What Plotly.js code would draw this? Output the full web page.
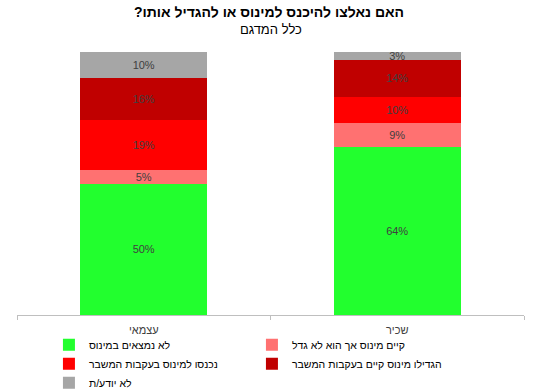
<!DOCTYPE html>
<html>
<head>
<meta charset="utf-8">
<script src="https://cdn.plot.ly/plotly-3.0.1.min.js"></script>
<style>html,body{margin:0;padding:0;background:#fff;}#chart{width:538px;height:389px;}</style>
</head>
<body>
<div id="chart"></div>
<script>
var categories = ["עצמאי", "שכיר"];
var seriesNames = [
  "לא נמצאים במינוס",
  "קיים מינוס אך הוא לא גדל",
  "נכנסו למינוס בעקבות המשבר",
  "הגדילו מינוס קיים בעקבות המשבר",
  "לא יודע/ת"
];
var notInMinus = [50, 64];
var minusNotGrown = [5, 9];
var enteredMinus = [19, 10];
var grewMinus = [16, 14];
var dontKnow = [10, 3];
var seriesValues = [notInMinus, minusNotGrown, enteredMinus, grewMinus, dontKnow];
var colors = ["#22FF2E", "#FF7171", "#FF0000", "#C00000", "#A6A6A6"];
var titleText = "האם נאלצו להיכנס למינוס או להגדיל אותו?\u200F";
var subtitleText = "כלל המדגם";

var FONT = "Liberation Sans, Arial, sans-serif";
var traces = seriesValues.map(function (vals, i) {
  return {
    type: "bar",
    name: seriesNames[i],
    x: categories,
    y: vals,
    text: vals.map(function (v) { return v + "%"; }),
    textposition: "inside",
    insidetextanchor: "middle",
    textangle: 0,
    constraintext: "none",
    textfont: {family: FONT, size: 11, color: "#404040"},
    marker: {color: colors[i], line: {width: 0}},
    width: 0.5,
    hoverinfo: "none"
  };
});

var layout = {
  width: 538,
  height: 389,
  paper_bgcolor: "#ffffff",
  plot_bgcolor: "#ffffff",
  barmode: "stack",
  bargap: 0.5,
  margin: {l: 17, r: 14, t: 52, b: 74, autoexpand: false},
  font: {family: FONT, size: 11, color: "#404040"},
  title: {
    text: "<b>" + titleText + "</b>",
    font: {family: FONT, size: 14, color: "#000000"},
    x: 0.5,
    xanchor: "center",
    yref: "container",
    y: 0.982,
    yanchor: "top",
    automargin: false
  },
  annotations: [{
    text: subtitleText,
    xref: "paper",
    yref: "paper",
    x: 0.5,
    y: 1.084,
    xanchor: "center",
    yanchor: "middle",
    showarrow: false,
    font: {family: FONT, size: 13, color: "#000000"}
  }],
  xaxis: {
    type: "category",
    tickson: "boundaries",
    ticks: "outside",
    ticklen: 4,
    tickcolor: "#BFBFBF",
    showline: true,
    linecolor: "#BFBFBF",
    linewidth: 1,
    showgrid: false,
    zeroline: false,
    ticklabelstandoff: 5,
    tickfont: {family: FONT, size: 11, color: "#404040"},
    fixedrange: true
  },
  yaxis: {
    range: [0, 100],
    visible: false,
    showgrid: false,
    zeroline: false,
    fixedrange: true
  },
  showlegend: true,
  legend: {
    orientation: "h",
    traceorder: "normal",
    x: 0.063,
    xanchor: "left",
    y: -0.058,
    yanchor: "top",
    entrywidth: 158,
    entrywidthmode: "pixels",
    itemwidth: 30,
    font: {family: FONT, size: 10.5, color: "#000000"},
    bgcolor: "rgba(0,0,0,0)"
  }
};

Plotly.newPlot("chart", traces, layout, {displayModeBar: false, staticPlot: true});
</script>
</body>
</html>
